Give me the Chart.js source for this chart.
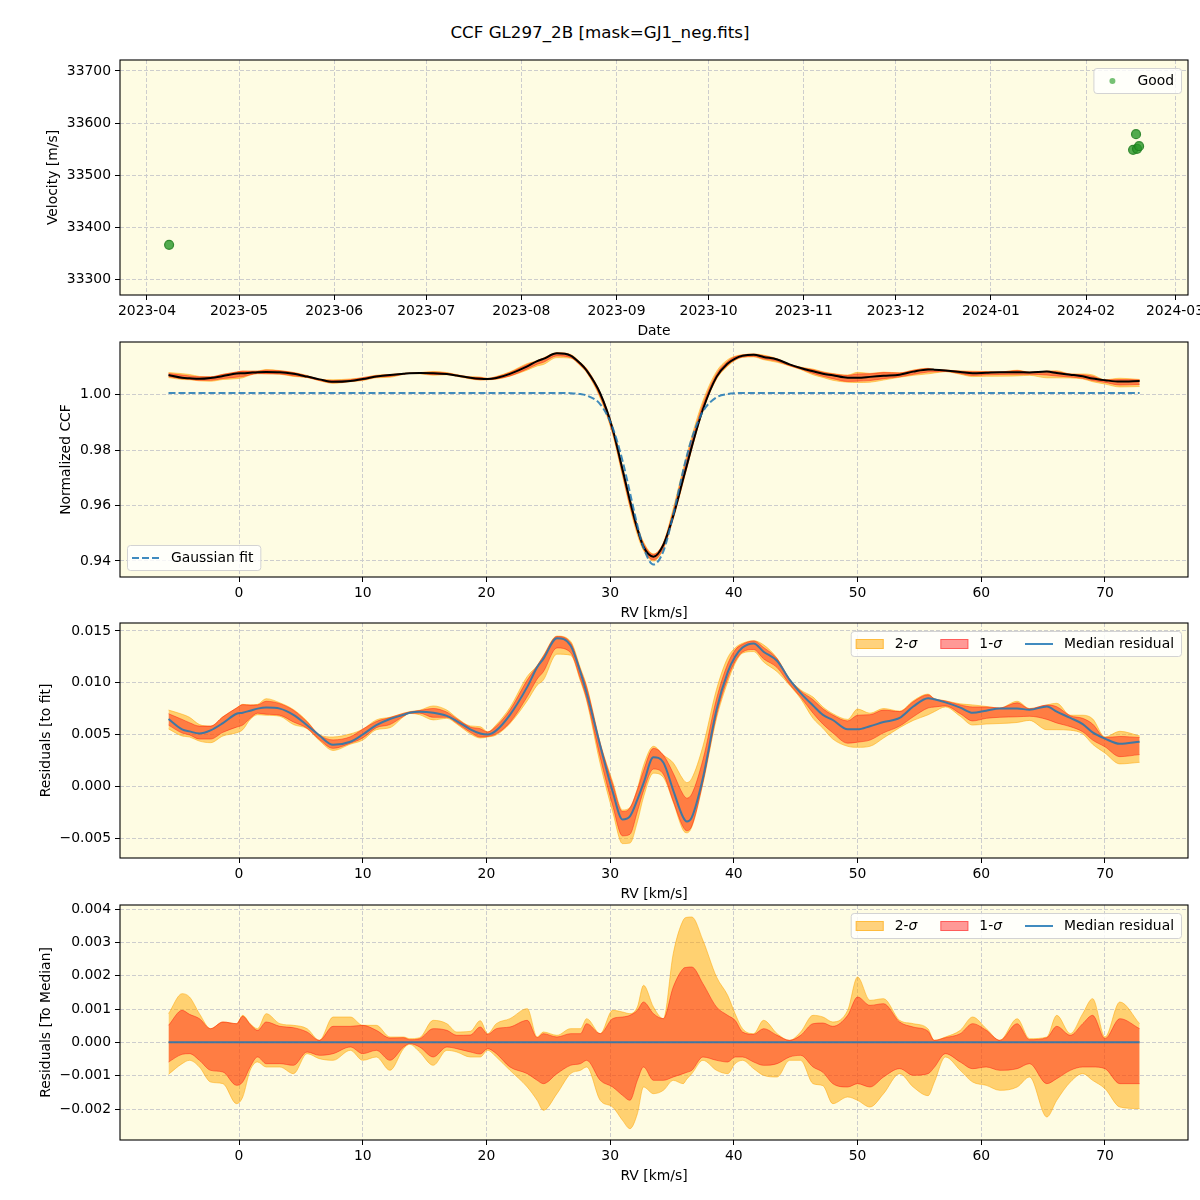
<!DOCTYPE html>
<html lang="en">
<head>
  <meta charset="UTF-8">
  <title>CCF GL297_2B</title>
  <script src="https://cdn.jsdelivr.net/npm/chart.js"></script>
  <style>
    * { box-sizing: border-box; margin: 0; padding: 0; }

    body {
      width: 1200px;
      height: 1200px;
      position: relative;
      overflow: hidden;
      background: #fff;
      font-family: 'DejaVu Sans', sans-serif;
      color: #000;
    }

    h1 {
      position: absolute;
      top: 22px;
      left: 0;
      width: 1200px;
      text-align: center;
      font-size: 16.7px;
      line-height: 20px;
      font-weight: normal;
    }

    .panel {
      position: absolute;
      left: 0;
      width: 1200px;
      height: 288px;
    }
  </style>
</head>
<body>

<h1>CCF GL297_2B [mask=GJ1_neg.fits]</h1>

<div class="panel" style="top:52px"><canvas id="velChart" width="1200" height="288"></canvas></div>
<div class="panel" style="top:334px"><canvas id="ccfChart" width="1200" height="288"></canvas></div>
<div class="panel" style="top:615px"><canvas id="fitChart" width="1200" height="288"></canvas></div>
<div class="panel" style="top:897px"><canvas id="medChart" width="1200" height="288"></canvas></div>

<script>
  // ---- velocity time series (top panel) ----
  const obsDates = ['2023-04-08T05:00', '2024-02-16T08:00', '2024-02-17T07:00', '2024-02-17T15:00', '2024-02-18T07:00'];
  const obsVel = [33367, 33549, 33579, 33551, 33556];
  const tickMonths = ['2023-04', '2023-05', '2023-06', '2023-07', '2023-08', '2023-09',
                      '2023-10', '2023-11', '2023-12', '2024-01', '2024-02', '2024-03'];
  const velTicks = [33300, 33400, 33500, 33600, 33700];

  // ---- CCF profile, RV grid in km/s ----
  const rv = [-5.7, -4.6, -4.0, -3.2, -2.3, -1.3, -0.2, 0.3, 0.9, 1.5,
              2.2, 3.3, 4.4, 5.5, 6.5, 7.6, 9.0, 10.0, 11.1, 12.2,
              13.3, 13.8, 14.6, 15.7, 16.8, 17.6, 18.7, 19.5, 20.1, 20.8,
              21.9, 23.3, 24.1, 24.6, 25.7, 26.8, 27.6, 28.1, 29.2, 30.2,
              31.0, 31.6, 32.2, 32.7, 33.5, 34.3, 35.1, 35.9, 36.2, 36.6,
              37.5, 38.6, 39.5, 40.1, 40.7, 41.6, 42.4, 43.5, 44.5, 45.4,
              46.4, 47.2, 48.0, 49.2, 50.0, 51.0, 52.1, 53.4, 54.5, 55.7,
              56.2, 57.1, 58.3, 59.3, 60.4, 61.5, 62.9, 63.9, 65.3, 66.1,
              67.2, 68.2, 69.0, 70.0, 71.2, 72.8];

  const ccf = [1.0072, 1.0062, 1.0060, 1.0058, 1.0061, 1.0068, 1.0077, 1.0078, 1.0080, 1.0082,
               1.0083, 1.0082, 1.0076, 1.0066, 1.0056, 1.0047, 1.0050, 1.0057, 1.0066, 1.0072,
               1.0076, 1.0078, 1.0079, 1.0078, 1.0075, 1.0070, 1.0062, 1.0058, 1.0057, 1.0061,
               1.0076, 1.0103, 1.0122, 1.0130, 1.0150, 1.0142, 1.0113, 1.0088, 1.0005, 0.9877,
               0.9730, 0.9618, 0.9516, 0.9451, 0.9415, 0.9458, 0.9563, 0.9696, 0.9746, 0.9813,
               0.9948, 1.0065, 1.0113, 1.0131, 1.0141, 1.0145, 1.0137, 1.0128, 1.0110, 1.0097,
               1.0085, 1.0076, 1.0071, 1.0062, 1.0062, 1.0065, 1.0069, 1.0073, 1.0084, 1.0092,
               1.0091, 1.0088, 1.0083, 1.0078, 1.0080, 1.0082, 1.0082, 1.0081, 1.0084, 1.0079,
               1.0073, 1.0067, 1.0059, 1.0053, 1.0048, 1.0050];

  const gaussFit = [1.0007, 1.0007, 1.0007, 1.0007, 1.0007, 1.0007, 1.0007, 1.0007, 1.0007, 1.0007,
                    1.0007, 1.0007, 1.0007, 1.0007, 1.0007, 1.0007, 1.0007, 1.0007, 1.0007, 1.0007,
                    1.0007, 1.0007, 1.0007, 1.0007, 1.0007, 1.0007, 1.0007, 1.0007, 1.0007, 1.0007,
                    1.0007, 1.0007, 1.0007, 1.0007, 1.0007, 1.0006, 1.0003, 0.9998, 0.9966, 0.9882,
                    0.9762, 0.9647, 0.9529, 0.9448, 0.9387, 0.9435, 0.9567, 0.9726, 0.9780, 0.9843,
                    0.9940, 0.9991, 1.0003, 1.0006, 1.0007, 1.0007, 1.0007, 1.0007, 1.0007, 1.0007,
                    1.0007, 1.0007, 1.0007, 1.0007, 1.0007, 1.0007, 1.0007, 1.0007, 1.0007, 1.0007,
                    1.0007, 1.0007, 1.0007, 1.0007, 1.0007, 1.0007, 1.0007, 1.0007, 1.0007, 1.0007,
                    1.0007, 1.0007, 1.0007, 1.0007, 1.0007, 1.0007];

  // median residual to the gaussian fit
  const residFit = [0.0065, 0.0055, 0.0053, 0.0051, 0.0054, 0.0061, 0.0070, 0.0071, 0.0073, 0.0075,
                    0.0076, 0.0075, 0.0069, 0.0059, 0.0049, 0.0040, 0.0043, 0.0050, 0.0059, 0.0065,
                    0.0069, 0.0071, 0.0072, 0.0071, 0.0068, 0.0063, 0.0055, 0.0051, 0.0050, 0.0054,
                    0.0069, 0.0096, 0.0115, 0.0123, 0.0143, 0.0136, 0.0110, 0.0090, 0.0039, -0.0005,
                    -0.0032, -0.0029, -0.0013, 0.0003, 0.0028, 0.0023, -0.0004, -0.0030, -0.0034, -0.0030,
                    0.0008, 0.0074, 0.0110, 0.0125, 0.0134, 0.0138, 0.0130, 0.0121, 0.0103, 0.0090,
                    0.0078, 0.0069, 0.0064, 0.0055, 0.0055, 0.0058, 0.0062, 0.0066, 0.0077, 0.0085,
                    0.0084, 0.0081, 0.0076, 0.0071, 0.0073, 0.0075, 0.0075, 0.0074, 0.0077, 0.0072,
                    0.0066, 0.0060, 0.0052, 0.0046, 0.0041, 0.0043];

  // spread around the median, in units of 1e-3
  const hi2 = [0.86, 1.46, 1.36, 0.86, 0.41, 0.61, 0.56, 0.81, 0.56, 0.41,
               0.86, 0.56, 0.51, 0.41, 0.06, 0.76, 0.76, 0.51, 0.51, 0.16,
               0.16, 0.11, 0.14, 0.66, 0.56, 0.31, 0.33, 0.65, 0.26, 0.56,
               0.71, 1.01, 0.16, 0.31, 0.21, 0.41, 0.41, 0.71, 0.26, 0.96,
               0.91, 0.86, 1.06, 1.71, 1.06, 0.71, 2.66, 3.66, 3.75, 3.76,
               3.06, 1.96, 1.41, 0.86, 0.41, 0.26, 0.66, 0.26, 0.06, 0.31,
               0.81, 0.76, 0.61, 0.96, 1.96, 1.26, 1.31, 0.66, 0.56, 0.40,
               0.06, 0.16, 0.36, 0.76, 0.41, 0.06, 0.71, 0.11, 0.16, 0.81,
               0.26, 0.86, 1.31, 0.16, 1.21, 0.56];
  const hi1 = [0.51, 0.96, 0.84, 0.71, 0.41, 0.61, 0.56, 0.78, 0.54, 0.36,
               0.61, 0.48, 0.44, 0.31, 0.06, 0.48, 0.48, 0.51, 0.36, 0.13,
               0.14, 0.08, 0.11, 0.41, 0.36, 0.21, 0.22, 0.46, 0.24, 0.41,
               0.46, 0.66, 0.14, 0.26, 0.16, 0.26, 0.26, 0.56, 0.26, 0.71,
               0.76, 0.81, 0.96, 1.21, 0.86, 0.71, 1.66, 2.21, 2.25, 2.26,
               1.76, 1.06, 0.81, 0.66, 0.31, 0.24, 0.41, 0.21, 0.06, 0.21,
               0.56, 0.58, 0.48, 0.81, 1.36, 1.11, 1.16, 0.61, 0.46, 0.33,
               0.06, 0.14, 0.26, 0.56, 0.36, 0.06, 0.56, 0.08, 0.14, 0.48,
               0.21, 0.56, 0.81, 0.11, 0.71, 0.41];
  const lo1 = [-0.59, -0.36, -0.34, -0.54, -0.84, -0.89, -1.29, -1.19, -0.74, -0.44,
               -0.64, -0.64, -0.69, -0.29, -0.39, -0.34, -0.14, -0.34, -0.24, -0.54,
               -0.14, -0.04, -0.14, -0.44, -0.14, -0.19, -0.29, -0.35, -0.19, -0.34,
               -0.74, -0.94, -1.14, -1.24, -0.94, -0.69, -0.64, -0.54, -1.14, -1.34,
               -1.59, -1.74, -1.14, -0.74, -1.14, -1.14, -1.04, -0.94, -0.90, -0.84,
               -0.44, -0.54, -0.59, -0.44, -0.44, -0.59, -0.69, -0.64, -0.44, -0.39,
               -0.74, -0.90, -1.24, -1.34, -1.24, -1.34, -1.04, -0.79, -0.99, -0.94,
               -0.75, -0.34, -0.59, -0.79, -0.74, -0.84, -0.79, -0.64, -1.24, -1.09,
               -0.84, -0.74, -0.74, -0.79, -1.24, -1.24];
  const lo2 = [-0.96, -0.64, -0.54, -0.74, -1.19, -1.24, -1.84, -1.64, -0.84, -0.59,
               -0.74, -0.74, -0.94, -0.34, -0.49, -0.54, -0.24, -0.54, -0.44, -0.84,
               -0.19, -0.06, -0.29, -0.69, -0.24, -0.29, -0.44, -0.44, -0.24, -0.44,
               -0.84, -1.34, -1.74, -2.04, -1.54, -0.94, -0.84, -0.74, -1.74, -1.94,
               -2.34, -2.59, -2.14, -1.34, -1.54, -1.44, -1.14, -1.24, -1.10, -0.94,
               -0.54, -0.84, -0.94, -0.64, -0.54, -0.79, -0.99, -1.04, -0.54, -0.54,
               -1.24, -1.30, -1.84, -1.64, -1.74, -1.94, -1.54, -0.94, -1.34, -1.60,
               -1.20, -0.44, -0.84, -1.19, -1.29, -1.44, -1.34, -1.04, -2.24, -1.74,
               -1.19, -0.94, -1.14, -1.39, -1.94, -1.99];

  const rvTicks = [0, 10, 20, 30, 40, 50, 60, 70];
  const ccfTicks = [0.94, 0.96, 0.98, 1.00];
  const fitTicks = [-0.005, 0, 0.005, 0.010, 0.015];
  const medTicks = [-0.002, -0.001, 0, 0.001, 0.002, 0.003, 0.004];

  // ---- styling ----
  Chart.defaults.font.family = 'DejaVu Sans';
  Chart.defaults.font.size = 13.9;
  Chart.defaults.color = '#000';

  const BG = '#fefce3';
  const SIG2 = 'rgba(255,165,0,0.5)';
  const SIG1 = 'rgba(255,0,0,0.4)';
  const BLUE = 'rgba(31,119,180,0.85)';
  const GREEN = 'rgba(40,150,40,0.8)';

  const gridOpts = {color: '#cdcdcd', lineWidth: 1, tickLength: 5, tickColor: '#000', tickBorderDash: []};
  const borderOpts = {display: false, dash: [4, 2]};

  const minus = s => s.replace('-', '\u2212');

  // fixed axis boxes so that every panel's plot area lines up
  function axisX(min, max, ticks, fmt, title) {
    return {
      type: 'linear', min, max,
      afterBuildTicks: s => { s.ticks = ticks.map(v => ({value: v})); },
      afterFit: s => { s.height = 45; s.paddingLeft = 0; s.paddingRight = 0; },
      ticks: {callback: fmt, autoSkip: false, maxRotation: 0, padding: 3},
      grid: gridOpts, border: borderOpts,
      title: {display: true, text: title, padding: {top: 0, bottom: 0}}
    };
  }

  function axisY(min, max, ticks, fmt, title, pad) {
    return {
      type: 'linear', min, max,
      afterBuildTicks: s => { s.ticks = ticks.map(v => ({value: v})); },
      afterFit: s => { s.width = 120; s.paddingTop = 0; s.paddingBottom = 0; },
      ticks: {callback: fmt, autoSkip: false, padding: 4},
      grid: gridOpts, border: borderOpts,
      title: {display: true, text: title, padding: {top: pad, bottom: 0}}
    };
  }

  // matplotlib-like look: panel background, full frame and an inside legend box
  const FONT = '13.9px "DejaVu Sans"';
  const panelStyle = {
    id: 'panelStyle',
    beforeDraw(chart) {
      const a = chart.chartArea, ctx = chart.ctx;
      ctx.save();
      ctx.fillStyle = BG;
      ctx.fillRect(a.left, a.top, a.width, a.height);
      ctx.restore();
    },
    afterDatasetsDraw(chart) {
      const a = chart.chartArea, ctx = chart.ctx;
      ctx.save();
      ctx.strokeStyle = '#000';
      ctx.lineWidth = 1.1;
      ctx.strokeRect(a.left, a.top, a.width, a.height);
      ctx.restore();
    },
    afterDraw(chart, args, opts) {
      const lg = opts.legend;
      if (!lg) return;
      const a = chart.chartArea, ctx = chart.ctx;
      ctx.save();
      const handle = 28, gapText = 11, gapCol = 23, padL = 5, padR = 7, h = 25;
      // text is a list of [string, fontStyle] pieces (italic for the sigma)
      const textWidth = parts => parts.reduce((s, [t, st]) => {
        ctx.font = st + FONT;
        return s + ctx.measureText(t).width;
      }, 0);
      const widths = lg.items.map(it => handle + gapText + textWidth(it.text));
      const w = padL + padR + widths.reduce((s, v) => s + v, 0) + gapCol * (lg.items.length - 1);
      const x0 = lg.loc === 'lower left' ? a.left + 7 : a.right - 7 - w;
      const y0 = lg.loc === 'lower left' ? a.bottom - 7 - h : a.top + 8;

      ctx.beginPath();
      ctx.roundRect(x0 + 0.5, y0 + 0.5, w, h, 3);
      ctx.fillStyle = 'rgba(255,255,255,0.8)';
      ctx.fill();
      ctx.strokeStyle = '#d3d3d3';
      ctx.lineWidth = 1;
      ctx.stroke();

      let x = x0 + padL;
      const cy = y0 + h / 2 + 0.5;
      lg.items.forEach((it, i) => {
        if (it.kind === 'patch') {
          ctx.fillStyle = it.color;
          ctx.fillRect(x, cy - 5, handle, 10);
          ctx.strokeStyle = it.color;
          ctx.strokeRect(x + 0.5, cy - 4.5, handle - 1, 9);
        } else if (it.kind === 'line') {
          ctx.strokeStyle = it.color;
          ctx.lineWidth = 2;
          ctx.setLineDash(it.dash || []);
          ctx.beginPath();
          ctx.moveTo(x, cy);
          ctx.lineTo(x + handle, cy);
          ctx.stroke();
          ctx.setLineDash([]);
        } else if (it.kind === 'dot') {
          ctx.fillStyle = it.color;
          ctx.beginPath();
          ctx.arc(x + handle / 2, cy, 3, 0, Math.PI * 2);
          ctx.fill();
        }
        ctx.fillStyle = '#000';
        ctx.textAlign = 'left';
        ctx.textBaseline = 'middle';
        let tx = x + handle + gapText;
        it.text.forEach(([t, st]) => {
          ctx.font = st + FONT;
          ctx.fillText(t, tx, cy);
          tx += ctx.measureText(t).width;
        });
        x += widths[i] + gapCol;
      });
      ctx.restore();
    }
  };

  const baseOptions = (scales, legend) => ({
    responsive: false,
    animation: false,
    events: [],
    layout: {padding: {top: 8, right: 12, left: 0, bottom: 0}},
    scales,
    plugins: {legend: {display: false}, tooltip: {enabled: false}, panelStyle: {legend}}
  });

  const line = (data, color, width, extra = {}) => Object.assign({
    data, borderColor: color, backgroundColor: color, borderWidth: width,
    pointRadius: 0, fill: false, cubicInterpolationMode: 'monotone'
  }, extra);

  const onGrid = (ys) => rv.map((x, i) => ({x, y: ys[i]}));
  const around = (base, dev) => rv.map((x, i) => ({x, y: (base ? base[i] : 0) + dev[i] * 1e-3}));

  const bandSets = (base) => [
    line(around(base, hi1), SIG1, 1, {fill: '+1'}),
    line(around(base, lo1), SIG1, 1),
    line(around(base, hi2), SIG2, 1, {fill: '+1'}),
    line(around(base, lo2), SIG2, 1)
  ];

  const sigmaLegend = {
    loc: 'upper right',
    items: [
      {kind: 'patch', color: SIG2, text: [['2-', ''], ['σ', 'italic ']]},
      {kind: 'patch', color: SIG1, text: [['1-', ''], ['σ', 'italic ']]},
      {kind: 'line', color: BLUE, text: [['Median residual', '']]}
    ]
  };

  const fmtRes = v => v === 0 ? '0.000' : minus(v.toFixed(3));

  // ---- panel 1: velocity vs date ----
  const dateMin = Date.parse('2023-03-23T05:00Z');
  const dateMax = Date.parse('2024-03-05T05:30Z');
  new Chart(document.getElementById('velChart'), {
    type: 'scatter',
    data: {
      datasets: [{
        data: obsDates.map((d, i) => ({x: Date.parse(d + 'Z'), y: obsVel[i]})),
        backgroundColor: GREEN,
        borderColor: 'rgba(30,125,30,0.85)',
        borderWidth: 1.2,
        pointRadius: 4.5
      }]
    },
    options: baseOptions({
      x: axisX(dateMin, dateMax, tickMonths.map(m => Date.parse(m + '-01T00:00Z')),
               (v, i) => tickMonths[i], 'Date'),
      y: axisY(33271, 33721, velTicks, v => String(v), 'Velocity [m/s]', 44.7)
    }, {loc: 'upper right', items: [{kind: 'dot', color: 'rgba(44,160,44,0.65)', text: [['Good', '']]}]}),
    plugins: [panelStyle]
  });

  // ---- panel 2: normalized CCF with gaussian fit ----
  new Chart(document.getElementById('ccfChart'), {
    type: 'line',
    data: {
      datasets: [
        line(onGrid(gaussFit), BLUE, 2, {borderDash: [7, 3]}),
        line(onGrid(ccf), '#000', 2),
        ...bandSets(ccf)
      ]
    },
    options: baseOptions({
      x: axisX(-9.62, 76.71, rvTicks, v => String(v), 'RV [km/s]'),
      y: axisY(0.9342, 1.0191, ccfTicks, v => v.toFixed(2), 'Normalized CCF', 57.7)
    }, {loc: 'lower left', items: [{kind: 'line', color: BLUE, dash: [7, 3], text: [['Gaussian fit', '']]}]}),
    plugins: [panelStyle]
  });

  // ---- panel 3: residuals to the fit ----
  new Chart(document.getElementById('fitChart'), {
    type: 'line',
    data: {
      datasets: [
        line(onGrid(residFit), BLUE, 2),
        ...bandSets(residFit)
      ]
    },
    options: baseOptions({
      x: axisX(-9.62, 76.71, rvTicks, v => String(v), 'RV [km/s]'),
      y: axisY(-0.00693, 0.01577, fitTicks, fmtRes, 'Residuals [to fit]', 37.7)
    }, sigmaLegend),
    plugins: [panelStyle]
  });

  // ---- panel 4: residuals to the median ----
  new Chart(document.getElementById('medChart'), {
    type: 'line',
    data: {
      datasets: [
        line([{x: rv[0], y: 0}, {x: rv[rv.length - 1], y: 0}], BLUE, 2),
        ...bandSets(null)
      ]
    },
    options: baseOptions({
      x: axisX(-9.62, 76.71, rvTicks, v => String(v), 'RV [km/s]'),
      y: axisY(-0.00293, 0.00412, medTicks, fmtRes, 'Residuals [To Median]', 37.7)
    }, sigmaLegend),
    plugins: [panelStyle]
  });
</script>

</body>
</html>
